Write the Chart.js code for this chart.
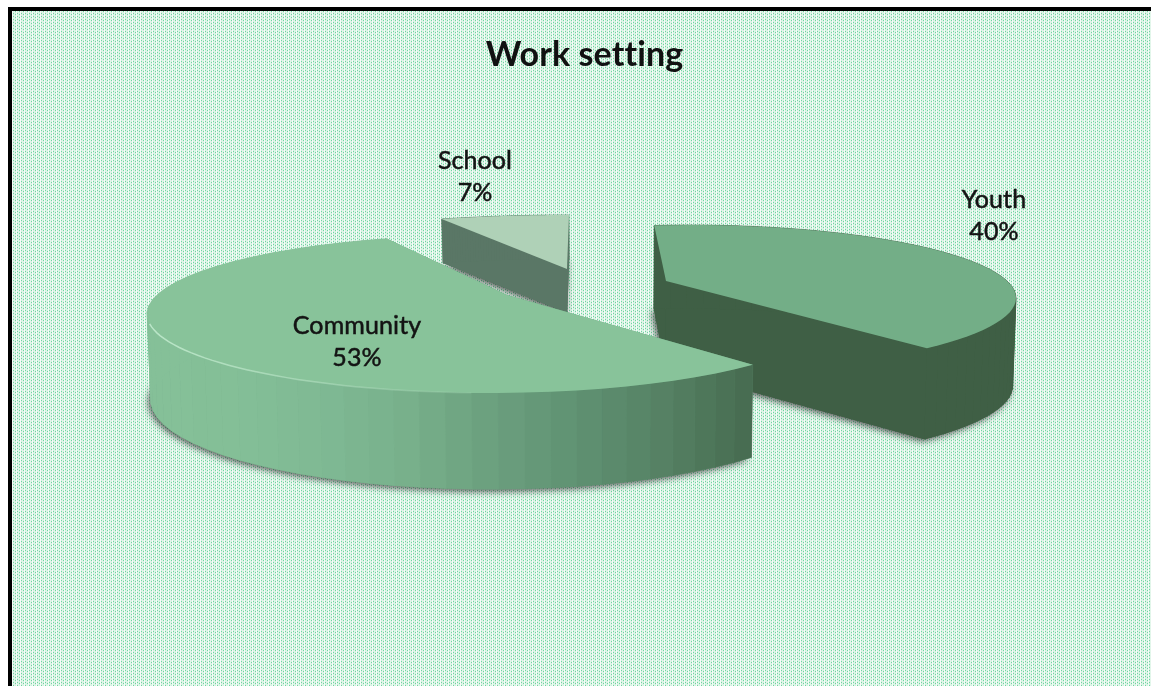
<!DOCTYPE html>
<html>
<head>
<meta charset="utf-8">
<title>Work setting</title>
<script src="https://cdn.jsdelivr.net/npm/chart.js@4"></script>
<style>
    html, body { margin: 0; padding: 0; background: #fff; overflow: hidden; }
    #box { width: 1151px; height: 686px; }
</style>
</head>
<body>
<div id="box"><canvas id="settingChart" width="1151" height="686"></canvas></div>
<script>
const categories = ['Youth', 'Community', 'School'];
const shares = [40, 53, 7];

// How each exploded wedge sits on the page: an elliptical rim around (cx, cy),
// an apex, and a linear map from pie angle to rim angle.
const WEDGES = {
    Youth: {
        apex: [666, 281], cx: 690, cy: 298, rx: 326, ry: 73,
        rimStart: -6.3, gain: 0.97, depth: 88, depthSlope: 0.06,
        top: '#73ae87', wall: ['#3f5f45'], order: 1, label: [994, 200],
    },
    Community: {
        apex: [507, 295], cx: 490, cy: 314, rx: 343, ry: 79,
        rimStart: 130, gain: 1.114, depth: 86, depthSlope: 0.13,
        top: '#88c39a', order: 2, label: [357, 326],
        wall: ['#85c098', '#84bf97', '#7fb994', '#78b08b', '#6b9f7e', '#5f9172', '#558063', '#466b50'],
        wallFrom: 147, wallTo: 753,
    },
    School: {
        apex: [567, 269], cx: 569, cy: 270, rx: 340, ry: 55,
        rimStart: -22, gain: 0.873, depth: 44, depthSlope: 0,
        top: '#afd1b7', wall: ['#5a7766'], order: 0, label: [475, 161],
    },
};

function hexToRgb(hex) {
    return [1, 3, 5].map((i) => parseInt(hex.slice(i, i + 2), 16));
}

function wallColor(wedge, x) {
    const stops = wedge.wall;
    if (stops.length === 1) {
        return stops[0];
    }
    const t = Math.min(1, Math.max(0, (x - wedge.wallFrom) / (wedge.wallTo - wedge.wallFrom)));
    const pos = t * (stops.length - 1);
    const i = Math.min(stops.length - 2, Math.floor(pos));
    const a = hexToRgb(stops[i]);
    const b = hexToRgb(stops[i + 1]);
    const mix = a.map((v, k) => Math.round(v + (b[k] - v) * (pos - i)));
    return `rgb(${mix.join(',')})`;
}

function drop(wedge, p) {
    const d = wedge.depth + wedge.depthSlope * (p[1] - wedge.cy);
    return [p[0] + (600 - p[0]) * 0.008, p[1] + d];
}

function fillPoly(ctx, pts, color) {
    ctx.beginPath();
    pts.forEach((p, i) => (i ? ctx.lineTo(p[0], p[1]) : ctx.moveTo(p[0], p[1])));
    ctx.closePath();
    ctx.fillStyle = color;
    ctx.fill();
}

// Rim points come from the arc angles Chart.js computed for the slice
function rimPoints(arc, wedge, steps) {
    const deg = (a) => (a + Math.PI / 2) * 180 / Math.PI;
    const from = deg(arc.startAngle);
    const sweep = (deg(arc.endAngle) - from) * wedge.gain;
    const pts = [];
    for (let i = 0; i <= steps; i++) {
        const phi = (wedge.rimStart + sweep * i / steps) * Math.PI / 180;
        pts.push([wedge.cx + wedge.rx * Math.sin(phi), wedge.cy - wedge.ry * Math.cos(phi)]);
    }
    return pts;
}

function drawWedge(ctx, arc, wedge) {
    const rim = rimPoints(arc, wedge, 48);
    const apex = wedge.apex;
    const first = rim[0];
    const last = rim[rim.length - 1];

    // soft ground shadow under the block
    ctx.save();
    ctx.shadowColor = 'rgba(30,30,30,0.75)';
    ctx.shadowBlur = 7;
    ctx.shadowOffsetX = -2;
    ctx.shadowOffsetY = 2;
    fillPoly(ctx, [drop(wedge, apex), ...rim.map((p) => drop(wedge, p))], wallColor(wedge, apex[0]));
    ctx.restore();

    fillPoly(ctx, [apex, first, drop(wedge, first), drop(wedge, apex)], wallColor(wedge, apex[0]));
    fillPoly(ctx, [apex, last, drop(wedge, last), drop(wedge, apex)], wallColor(wedge, apex[0]));

    for (let i = 0; i < rim.length - 1; i++) {
        const a = rim[i];
        const b = rim[i + 1];
        const color = wallColor(wedge, (a[0] + b[0]) / 2);
        ctx.strokeStyle = color;
        ctx.lineWidth = 0.6;
        fillPoly(ctx, [a, b, drop(wedge, b), drop(wedge, a)], color);
        ctx.stroke();
    }

    fillPoly(ctx, [apex, ...rim], wedge.top);
}

const frame = {
    id: 'frame',
    beforeDraw(chart) {
        const { ctx, width, height } = chart;
        // keeps Lato from joining the double t
        ctx.letterSpacing = '0.1px';

        // dotted sheet background
        const tile = document.createElement('canvas');
        tile.width = 4;
        tile.height = 3;
        const t = tile.getContext('2d');
        t.fillStyle = '#d2f0df';
        t.fillRect(0, 0, 4, 3);
        t.fillStyle = '#f6fcf8';
        t.fillRect(0, 0, 1, 3);
        t.fillStyle = '#e2f6ea';
        t.fillRect(2, 0, 1, 3);
        t.fillStyle = '#6fd6a0';
        t.fillRect(1, 1, 1, 1);
        t.fillRect(3, 2, 1, 1);
        ctx.save();
        ctx.fillStyle = ctx.createPattern(tile, 'repeat');
        ctx.fillRect(0, 0, width, height);
        ctx.fillStyle = '#fff';
        ctx.fillRect(0, 0, width, 7);
        ctx.fillRect(0, 0, 8, height);
        ctx.fillStyle = '#000';
        ctx.fillRect(8, 7, width - 8, 4);
        ctx.fillRect(8, 7, 4, height - 7);
        ctx.restore();
    },
};

const exploded3d = {
    id: 'exploded3d',
    // the flat arcs are replaced by the extruded wedges
    beforeDatasetsDraw(chart) {
        const { ctx } = chart;
        const arcs = chart.getDatasetMeta(0).data;
        const painted = categories
            .map((name, i) => ({ name, arc: arcs[i], wedge: WEDGES[name], value: shares[i] }))
            .sort((a, b) => a.wedge.order - b.wedge.order);

        ctx.save();
        painted.forEach(({ arc, wedge }) => drawWedge(ctx, arc, wedge));

        // pale highlight on the front edge of the largest wedge
        const big = painted.find((p) => p.name === 'Community');
        const rim = rimPoints(big.arc, big.wedge, 96).filter((p) => p[0] < 480 && p[1] > 322);
        const glow = ctx.createLinearGradient(150, 0, 480, 0);
        glow.addColorStop(0, 'rgba(190,232,203,0.95)');
        glow.addColorStop(1, 'rgba(190,232,203,0.1)');
        ctx.beginPath();
        rim.forEach((p, i) => (i ? ctx.lineTo(p[0], p[1]) : ctx.moveTo(p[0], p[1])));
        ctx.strokeStyle = glow;
        ctx.lineWidth = 1.5;
        ctx.stroke();

        ctx.font = '25px Lato';
        ctx.textAlign = 'center';
        ctx.textBaseline = 'middle';
        ctx.fillStyle = '#141414';
        ctx.strokeStyle = '#141414';
        ctx.lineWidth = 0.5;
        painted.forEach(({ name, wedge, value }) => {
            const lines = [name, `${value}%`];
            lines.forEach((text, row) => {
                ctx.fillText(text, wedge.label[0], wedge.label[1] + row * 32);
                ctx.strokeText(text, wedge.label[0], wedge.label[1] + row * 32);
            });
        });
        ctx.restore();
        return false;
    },
};

new Chart(document.getElementById('settingChart'), {
    type: 'pie',
    data: {
        labels: categories,
        datasets: [{ data: shares, borderWidth: 0 }],
    },
    options: {
        responsive: false,
        animation: false,
        layout: { padding: { left: 18 } },
        plugins: {
            legend: { display: false },
            tooltip: { enabled: false },
            title: {
                display: true,
                text: 'Work setting',
                color: '#111',
                font: { family: 'Lato', size: 34, weight: 'bold' },
                padding: { top: 35, bottom: 10 },
            },
        },
    },
    plugins: [frame, exploded3d],
});
</script>
</body>
</html>
